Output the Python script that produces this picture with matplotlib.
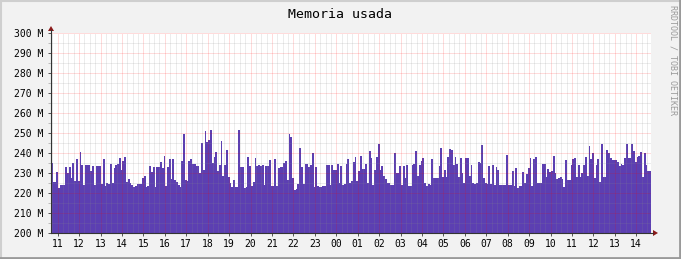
import numpy as np
import matplotlib
matplotlib.use("Agg")
import matplotlib.pyplot as plt
from matplotlib.patches import Polygon
from matplotlib.lines import Line2D

# memory used (M), 5 minute samples
mem_morning = [234.8, 225.3, 225.7, 230.3, 222.3, 223.8, 223.8, 223.8, 232.8, 229.8,
               232.8, 227.5, 234.8, 225.8, 236.8, 225.8, 240.5, 234, 224, 234,
               234, 234, 231, 233.7, 224, 233.7, 233.7, 233.7, 224.5, 236.8,
               223.5, 225, 224.5, 234.5, 225.2, 232.5, 234.2, 234.5, 237.5, 231.5,
               236.2, 237.8, 225.5, 227.2, 224.8, 224.2, 223.2, 223.7, 224.5, 224.5,
               224.5, 227.3, 228.7, 223, 223.7, 233.5, 230.7, 233, 223, 232.8,
               232.8, 235.5, 232.5, 238.5, 223.5, 232.8, 237, 226.8, 237, 226.5,
               225.5, 224.2, 223, 236, 249.5, 226.5, 226.2, 236, 237, 234.5,
               234.5, 233.5, 233.5]
mem_evening = [229.8, 244.8, 231.5, 251, 245.5, 246.5, 251.5, 234.8, 238.2, 240.5,
               231.2, 234, 246.2, 228.5, 234, 241.5, 228, 225, 223.2, 226.5,
               223, 223, 251.5, 233.2, 232.8, 222.5, 223, 238.2, 233.5, 223.7,
               225.5, 237.5, 233.5, 234, 233.5, 234, 224, 233.3, 233.5, 236.5,
               223.5, 223.5, 237, 223.5, 232.5, 232.8, 233.2, 234.8, 235.8, 226.5,
               249.5, 247.8, 227.5, 221.7, 222, 224.5, 242.5, 233, 224.5, 234.7,
               234.7, 233, 234, 240, 223, 233, 223.5, 223, 223, 223.5,
               223.5, 234, 234, 224, 234, 231.5, 231.5, 234.5, 225, 233.5,
               224.2, 224.5, 234.5, 237]
mem_night = [225.2, 226, 235.5, 238, 226.2, 231, 238.5, 232, 232, 234.7,
             225, 241, 237.5, 224, 231.5, 238, 244.5, 231.5, 233.7, 228.5,
             227, 225, 225, 224, 224, 240, 230, 229.8, 233.7, 224,
             233.7, 227.5, 234, 223.5, 223.5, 234, 234.5, 241, 228.5, 234.2,
             236.2, 237.5, 225.2, 223.7, 224.5, 224, 237, 227.5, 227.5, 227.5,
             233.5, 242.5, 228, 231.5, 228, 238, 242, 241.5, 234.2, 238,
             234.5, 228, 237.5, 229.8, 225, 237.5, 237.5, 228.7, 234.2, 225,
             224.5, 225, 235.5, 235, 244, 227.5, 224.8, 224.7, 233.5, 224.7,
             234, 224, 233, 231.5]
mem_day = [224, 224, 224, 224, 239, 224, 224, 230.8, 223.7, 232.3,
           222.5, 223.5, 223.5, 230.5, 225.2, 229.5, 232.5, 237.5, 223.5, 237.2,
           238, 225, 225, 224.8, 234.7, 234.7, 228, 232.2, 230.3, 231,
           238.5, 230, 227, 227.5, 228, 226.8, 223,
           236.5, 226.5, 226.5, 234, 237, 237.3, 228, 234, 228, 230,
           234, 238, 228.7, 243.5, 237, 239.8, 227.7, 234, 237, 225.7,
           244.5, 228, 228, 241.5, 240, 237.5, 236.5, 236.5, 236.5, 235.5,
           233.5, 234.5, 234, 237.5, 244.5, 237.5, 237.5, 244.5, 241, 235.5,
           238, 238.5, 240.5, 228, 240, 234, 231, 231]

hour_labels = ['11', '12', '13', '14', '15', '16', '17', '18', '19', '20', '21', '22', '23',
               '00', '01', '02', '03', '04', '05', '06', '07', '08', '09', '10', '11', '12', '13', '14']
y_ticks = [200, 210, 220, 230, 240, 250, 260, 270, 280, 290, 300]
y_labels = ['%d M' % v for v in y_ticks]

start_hour = 10.69
step = 5 / 60.0
span = 28.0

W, H = 681, 259


def px(x, y):
    return (x / W, 1 - y / H)


mem = np.array(mem_morning + mem_evening + mem_night + mem_day)
edges = start_hour + np.arange(len(mem) + 1) * step

fig = plt.figure(figsize=(W / 100, H / 100), dpi=100, facecolor='#F2F2F2')
ax = fig.add_axes([51 / W, (H - 233) / H, 600 / W, 200 / H])
ax.set_facecolor('white')

ax.stairs(mem, edges, fill=True, baseline=0, color='#5C3FB2', linewidth=0, zorder=1)

ax.set_xlim(start_hour, start_hour + span)
ax.set_ylim(200, 300)

hours = np.arange(11, 11 + len(hour_labels))
ax.set_xticks(hours, hour_labels)
ax.set_xticks(np.arange(10.75, start_hour + span, 0.25), minor=True)
ax.set_yticks(y_ticks, y_labels)
ax.set_yticks(np.arange(205, 300, 10), minor=True)

mono = 'DejaVu Sans Mono'
for lab in ax.get_xticklabels() + ax.get_yticklabels():
    lab.set_family(mono)
    lab.set_fontsize(7)

ax.tick_params(axis='both', which='major', length=2, width=0.7, color='#555555')
ax.tick_params(axis='x', which='major', pad=2.2)
ax.tick_params(axis='y', which='major', pad=3.2)
ax.tick_params(axis='x', which='minor', length=0)
ax.tick_params(axis='y', which='minor', length=2, width=0.7, color='#BBBBBB')

ax.set_axisbelow(False)
ax.grid(which='minor', color='#8C8C8C', alpha=0.32, linewidth=0.72, linestyle=(0, (1, 1)))
ax.grid(which='major', color='#FF0000', alpha=0.28, linewidth=0.72, linestyle=(0, (1, 1)))

for s in ax.spines.values():
    s.set_visible(False)

# axes with arrows
fig.add_artist(Line2D([51 / W, 653 / W], [1 - 233 / H, 1 - 233 / H], color='#333333', lw=0.8))
fig.add_artist(Line2D([51 / W, 51 / W], [1 - 233 / H, 1 - 30 / H], color='#333333', lw=0.8))
fig.add_artist(Polygon([px(48, 31), px(54, 31), px(51, 26)], closed=True, color='#8B1A1A', lw=0))
fig.add_artist(Polygon([px(653, 230), px(653, 236), px(658, 233)], closed=True, color='#8B1A1A', lw=0))

# frame
fig.add_artist(Line2D([0, 1], [1 - 0.5 / H, 1 - 0.5 / H], color='#CFCFCF', lw=1.5))
fig.add_artist(Line2D([0.5 / W, 0.5 / W], [0, 1], color='#CFCFCF', lw=1.5))
fig.add_artist(Line2D([0, 1], [1.2 / H, 1.2 / H], color='#9A9A9A', lw=2))
fig.add_artist(Line2D([1 - 1.2 / W, 1 - 1.2 / W], [0, 1], color='#9A9A9A', lw=2))

fig.text(340.5 / W, 1 - 14 / H, 'Memoria usada', ha='center', va='center',
         family=mono, fontsize=9.5, color='black')
fig.text(673 / W, 1 - 60 / H, 'RRDTOOL / TOBI OETIKER', ha='center', va='center',
         rotation=270, family=mono, fontsize=6, color='#9A9A9A')

fig.savefig('out.png', dpi=100, facecolor=fig.get_facecolor())
